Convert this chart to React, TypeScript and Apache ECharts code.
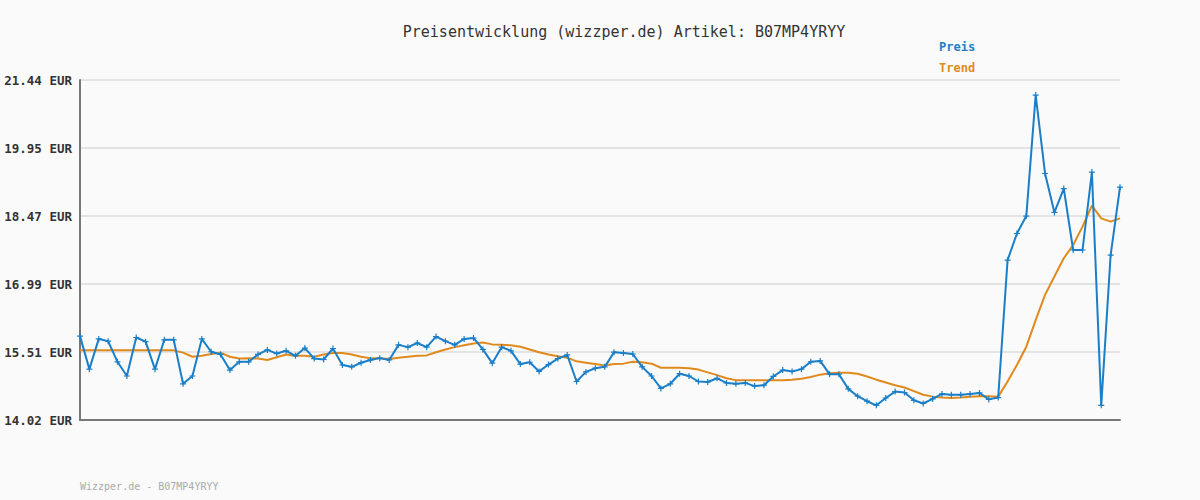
import React, { useEffect, useRef } from "react";
import * as echarts from "echarts";

const TITLE = "Preisentwicklung (wizzper.de) Artikel: B07MP4YRYY";
const FOOTER = "Wizzper.de - B07MP4YRYY";
const Y_MIN = 14.02;
const Y_MAX = 21.44;
const yTickLabels = ["14.02 EUR", "15.51 EUR", "16.99 EUR", "18.47 EUR", "19.95 EUR", "21.44 EUR"];

const preis = [
  15.85, 15.13, 15.79, 15.74, 15.29, 14.98, 15.82, 15.73, 15.13, 15.77,
  15.77, 14.81, 14.98, 15.79, 15.51, 15.45, 15.11, 15.29, 15.29, 15.45,
  15.55, 15.47, 15.53, 15.42, 15.59, 15.36, 15.34, 15.58, 15.22, 15.18,
  15.27, 15.33, 15.37, 15.33, 15.66, 15.61, 15.7, 15.61, 15.84, 15.74,
  15.66, 15.79, 15.81, 15.56, 15.26, 15.61, 15.53, 15.24, 15.28, 15.08,
  15.23, 15.36, 15.44, 14.86, 15.07, 15.15, 15.18, 15.5, 15.48, 15.46,
  15.18, 14.98, 14.71, 14.81, 15.03, 14.98, 14.86, 14.85, 14.93, 14.83,
  14.81, 14.83, 14.76, 14.78, 14.97, 15.11, 15.08, 15.13, 15.29, 15.31,
  15.02, 15.02, 14.7, 14.54, 14.43, 14.34, 14.5, 14.64, 14.62, 14.45,
  14.38, 14.48, 14.59, 14.57, 14.57, 14.59, 14.61, 14.47, 14.51, 17.51,
  18.09, 18.47, 21.11, 19.4, 18.55, 19.07, 17.73, 17.73, 19.43, 14.34,
  17.62, 19.1,
];

const trend = [
  15.54, 15.54, 15.54, 15.54, 15.54, 15.54, 15.54, 15.54, 15.54, 15.54,
  15.54, 15.49, 15.4, 15.42, 15.46, 15.49, 15.4, 15.36, 15.37, 15.36,
  15.33, 15.39, 15.45, 15.42, 15.42, 15.4, 15.45, 15.48, 15.48, 15.45,
  15.4, 15.37, 15.37, 15.35, 15.38, 15.4, 15.42, 15.43, 15.5, 15.56,
  15.61, 15.65, 15.69, 15.71, 15.67, 15.66, 15.65, 15.62, 15.56, 15.5,
  15.45, 15.41, 15.38, 15.3, 15.27, 15.24, 15.21, 15.24, 15.25, 15.29,
  15.28, 15.25, 15.16, 15.16, 15.16, 15.15, 15.12, 15.06, 15.0, 14.93,
  14.89, 14.89, 14.89, 14.89, 14.89, 14.89, 14.9, 14.92, 14.96, 15.01,
  15.04, 15.05, 15.05, 15.03, 14.97, 14.9, 14.84, 14.78, 14.73, 14.65,
  14.57, 14.53, 14.51, 14.5, 14.51, 14.53, 14.54, 14.54, 14.53, 14.86,
  15.22, 15.62, 16.2, 16.75, 17.15, 17.55, 17.84, 18.24, 18.7, 18.42,
  18.35, 18.42,
];

const categories = preis.map((_, i) => String(i + 1));

const BLUE = "#1a7fc8";
const ORANGE = "#e08a1e";
const MONO = "'DejaVu Sans Mono', 'Liberation Mono', monospace";

export default function App() {
  const ref = useRef<HTMLDivElement>(null);
  useEffect(() => {
    if (!ref.current) return;
    const chart = echarts.init(ref.current, null, { renderer: "svg" });
    const step = (Y_MAX - Y_MIN) / (yTickLabels.length - 1);
    chart.setOption({
      animation: false,
      backgroundColor: "#fafafa",
      textStyle: { fontFamily: MONO },
      title: {
        text: TITLE,
        left: 619,
        textAlign: "center",
        top: 19,
        textStyle: { fontFamily: MONO, fontSize: 15, fontWeight: "normal", color: "#333" },
      },
      legend: {
        orient: "vertical",
        left: 929,
        top: 36,
        itemGap: 9,
        itemWidth: 0,
        itemHeight: 0,
        icon: "rect",
        selectedMode: false,
        data: [
          { name: "Preis", textStyle: { color: BLUE } },
          { name: "Trend", textStyle: { color: ORANGE } },
        ],
        textStyle: { fontFamily: MONO, fontSize: 12, fontWeight: "bold" },
      },
      graphic: [
        {
          type: "text",
          left: 80,
          top: 481,
          style: { text: FOOTER, fill: "#aaa", font: `10px ${MONO}` },
        },
      ],
      grid: { left: 80, right: 80, top: 80, bottom: 80, containLabel: false },
      xAxis: {
        type: "category",
        data: categories,
        boundaryGap: false,
        axisLine: { show: true, lineStyle: { color: "#777", width: 2 } },
        axisTick: { show: false },
        axisLabel: { show: false },
        splitLine: { show: false },
      },
      yAxis: {
        type: "value",
        min: 0,
        max: Y_MAX - Y_MIN,
        interval: step,
        axisLine: { show: true, lineStyle: { color: "#777", width: 2 } },
        axisTick: { show: false },
        axisLabel: {
          margin: 8,
          fontFamily: MONO,
          fontSize: 12.5,
          fontWeight: "bold",
          color: "#333",
          formatter: (v: number) => yTickLabels[Math.round(v / step)] ?? "",
        },
        splitLine: { show: true, lineStyle: { color: "#e4e4e4", width: 2 } },
      },
      series: [
        {
          name: "Trend",
          type: "line",
          data: trend.map((v) => v - Y_MIN),
          showSymbol: false,
          symbol: "none",
          lineStyle: { color: ORANGE, width: 2 },
          itemStyle: { color: ORANGE },
          z: 2,
        },
        {
          name: "Preis",
          type: "line",
          data: preis.map((v) => v - Y_MIN),
          symbol: "path://M2,0H3V2H5V3H3V5H2V3H0V2H2Z",
          symbolSize: 6,
          showAllSymbol: true,
          lineStyle: { color: BLUE, width: 2 },
          itemStyle: { color: BLUE },
          z: 3,
        },
      ],
    });
    return () => chart.dispose();
  }, []);
  return (
    <div
      ref={ref}
      style={{ position: "fixed", left: 0, top: 0, width: 1200, height: 500 }}
    />
  );
}
